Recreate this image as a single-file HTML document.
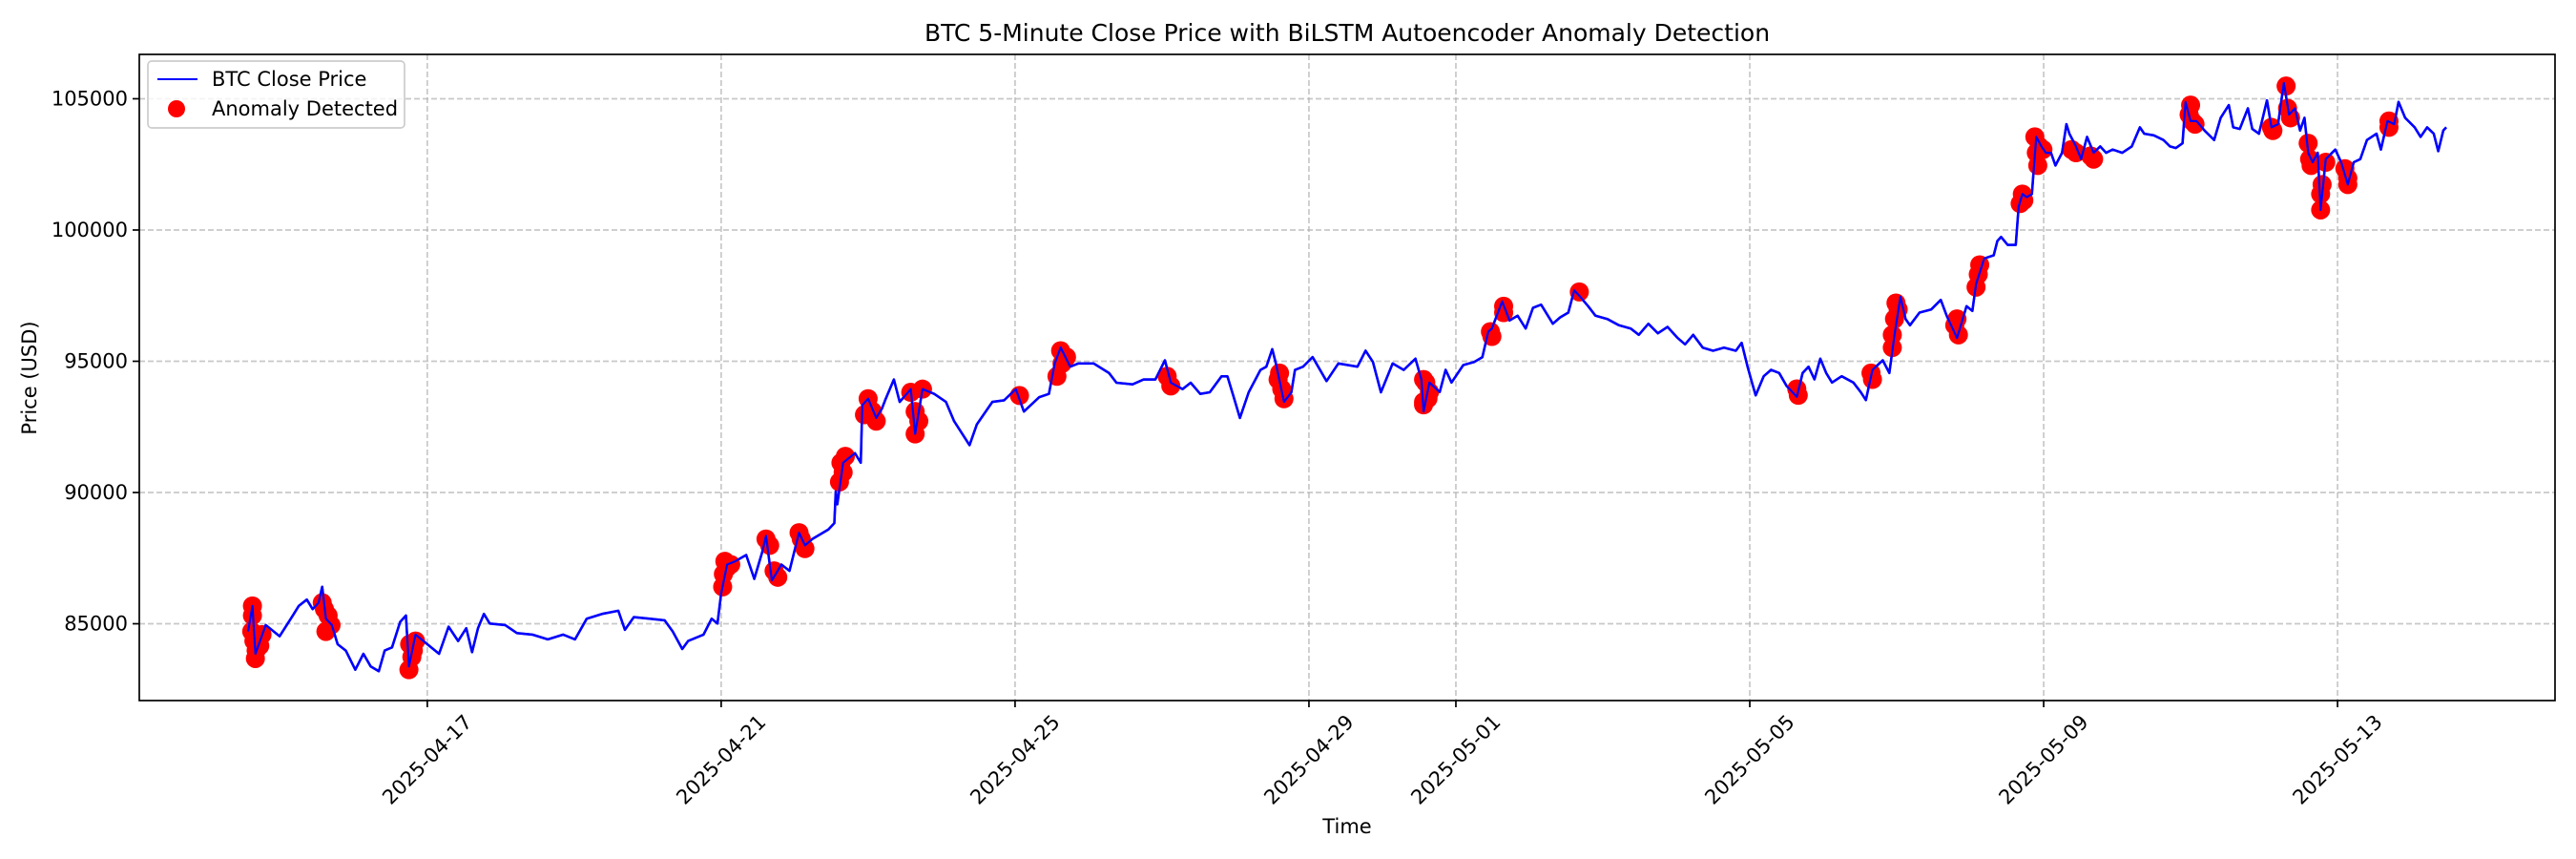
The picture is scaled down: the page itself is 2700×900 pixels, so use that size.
<!DOCTYPE html>
<html><head><meta charset="utf-8"><style>
html,body{margin:0;padding:0;background:#fff;}
svg{display:block;font-family:"DejaVu Sans","Liberation Sans",sans-serif;}
</style></head><body>
<svg id="chart" width="2700" height="900" viewBox="0 0 2700 900" xmlns="http://www.w3.org/2000/svg">
<rect width="2700" height="900" fill="#fff"/>
<text x="1412" y="43" font-size="25" text-anchor="middle">BTC 5-Minute Close Price with BiLSTM Autoencoder Anomaly Detection</text>
<text transform="translate(38,396) rotate(-90)" font-size="21" text-anchor="middle">Price (USD)</text>
<text x="1412" y="873" font-size="21" text-anchor="middle">Time</text>
<g id="grid"></g><g id="series"></g><g id="axes"></g><g id="legend"></g>
</svg>
<script>
// time in days since 2025-04-17 00:00
const priceT=[-2.44,-2.38,-2.34,-2.20,-2.01,-1.83,-1.75,-1.64,-1.56,-1.48,-1.43,-1.38,-1.30,-1.22,-1.11,-0.98,-0.87,-0.77,-0.66,-0.58,-0.48,-0.37,-0.29,-0.25,-0.16,0,0.16,0.29,0.42,0.53,0.61,0.69,0.77,0.85,1.06,1.22,1.43,1.64,1.85,2.01,2.17,2.38,2.60,2.69,2.81,3.02,3.23,3.34,3.47,3.55,3.76,3.87,3.95,4.00,4.08,4.19,4.34,4.45,4.56,4.61,4.69,4.82,4.93,5.06,5.14,5.24,5.46,5.54,5.56,5.58,5.66,5.82,5.90,5.92,6.00,6.11,6.19,6.24,6.35,6.43,6.58,6.64,6.74,6.90,7.06,7.17,7.38,7.48,7.69,7.85,8.01,8.12,8.33,8.46,8.54,8.62,8.75,8.86,9.07,9.28,9.38,9.60,9.75,9.91,10.04,10.12,10.28,10.39,10.52,10.65,10.81,10.89,10.97,11.06,11.18,11.34,11.42,11.50,11.55,11.66,11.76,11.81,11.92,12.05,12.24,12.40,12.66,12.77,12.87,12.98,13.14,13.29,13.45,13.53,13.56,13.64,13.78,13.86,13.94,14.10,14.25,14.36,14.44,14.49,14.63,14.73,14.84,14.95,15.05,15.16,15.32,15.42,15.53,15.61,15.69,15.80,15.90,16.06,16.22,16.38,16.49,16.62,16.75,16.88,17.02,17.12,17.23,17.36,17.50,17.65,17.81,17.89,17.97,18.03,18.08,18.19,18.29,18.40,18.50,18.64,18.72,18.80,18.88,18.96,19.04,19.12,19.25,19.41,19.51,19.58,19.67,19.81,19.90,19.97,20.05,20.12,20.18,20.31,20.47,20.60,20.68,20.82,20.95,21.03,21.08,21.19,21.32,21.37,21.42,21.51,21.62,21.66,21.71,21.77,21.84,21.86,21.90,21.97,22.03,22.10,22.16,22.25,22.31,22.35,22.44,22.51,22.59,22.68,22.77,22.85,22.94,23.07,23.20,23.31,23.37,23.50,23.63,23.72,23.80,23.89,23.93,24.00,24.08,24.19,24.32,24.41,24.52,24.58,24.67,24.78,24.84,24.93,25.04,25.10,25.19,25.27,25.34,25.42,25.49,25.55,25.60,25.66,25.73,25.77,25.84,25.97,26.05,26.14,26.22,26.31,26.40,26.53,26.59,26.68,26.77,26.83,26.92,27.05,27.13,27.22,27.31,27.37,27.44,27.48];
const priceV=[84707,85678,83857,84950,84525,85314,85678,85921,85557,85800,86407,85193,84950,84221,83979,83250,83857,83371,83190,83979,84100,85071,85314,83371,84586,84221,83857,84889,84343,84829,83918,84829,85375,85010,84950,84646,84586,84404,84586,84404,85193,85375,85496,84768,85253,85193,85132,84707,84039,84343,84586,85193,85010,86164,87256,87378,87620,86710,87742,88349,86649,87256,87014,88470,87985,88228,88592,88835,90049,89549,91134,91500,91134,93329,93573,92841,93207,93573,94305,93451,93939,92232,93939,93756,93451,92720,91805,92598,93451,93512,93939,93085,93634,93756,94915,95524,94793,94915,94915,94549,94183,94122,94305,94305,95037,94183,93939,94183,93756,93817,94427,94427,93695,92841,93817,94671,94793,95463,94915,93451,93817,94671,94793,95159,94244,94915,94793,95402,94976,93817,94915,94671,95098,94305,93085,94188,93824,94673,94188,94855,94976,95158,96127,96248,97279,96551,96733,96248,97036,97157,96430,96673,96854,97703,97460,97097,96733,96612,96370,96248,96006,96430,96067,96309,95885,95642,96006,95521,95400,95521,95400,95703,94794,94188,93703,94430,94673,94552,94067,93643,94552,94794,94309,95097,94552,94188,94430,94188,93824,93521,94673,95036,94552,96006,97460,96612,96370,96854,96976,97339,96733,95885,97097,96915,97945,98915,99036,99582,99737,99434,99434,100886,101370,101249,101370,102096,103548,103185,102943,102943,102459,102943,104032,103669,103185,102701,103548,102943,103185,102943,103064,102943,103185,103911,103669,103608,103427,103185,103124,103306,104879,104153,104153,103790,103427,104274,104758,103911,103851,104637,103851,103669,104940,103911,104032,105605,104395,104637,103790,104274,102943,102580,102943,100765,102701,103064,102580,101733,102580,102701,103427,103669,103064,104153,104032,104879,104274,103911,103548,103911,103669,103004,103790,103911];
const anomT=[-2.38,-2.38,-2.39,-2.36,-2.33,-2.34,-2.25,-2.28,-1.43,-1.40,-1.35,-1.31,-1.38,-0.24,-0.21,-0.16,-0.25,-0.19,4.05,4.03,4.02,4.08,4.13,4.61,4.66,4.72,4.77,5.06,5.09,5.14,5.63,5.61,5.66,5.69,6.00,5.95,6.06,6.11,6.58,6.64,6.64,6.74,6.69,8.06,8.62,8.64,8.57,8.70,10.07,10.12,11.60,11.63,11.66,11.58,13.56,13.56,13.59,13.62,13.64,13.56,14.47,14.49,14.65,14.65,15.68,18.64,18.66,19.65,19.67,19.99,19.97,19.94,19.94,20.02,20.82,20.84,20.79,21.08,21.11,21.13,21.68,21.71,21.73,21.88,21.90,21.92,21.94,21.99,22.38,22.44,22.64,22.68,24.00,23.98,24.06,24.02,25.10,25.12,25.30,25.32,25.36,25.60,25.62,25.64,25.77,25.77,25.84,25.79,26.14,26.14,26.10,26.70,26.70];
const anomV=[85678,85314,84707,84343,83979,83675,84586,84161,85800,85557,85314,84950,84707,84221,83736,84343,83250,83979,87378,86892,86407,87135,87256,88228,87985,87014,86771,88470,88228,87863,91134,90402,90768,91378,93573,92963,93085,92720,93817,93085,92232,93939,92720,93695,95402,94915,94427,95159,94427,94061,94549,93939,93573,94305,94305,93451,94188,93582,93824,93340,96127,95945,97097,96854,97642,93946,93703,94552,94309,97218,96612,96006,95521,96976,96612,96006,96370,97824,98309,98673,101007,101370,101128,103548,102943,102459,103185,103064,103064,102943,102822,102701,104758,104395,104032,104153,103911,103790,105484,104637,104274,103306,102701,102459,101370,100765,102580,101733,101975,101733,102338,104153,103911];
const xTickT=[0,4,8,12,14,18,22,26];
const xTickLabels=["2025-04-17","2025-04-21","2025-04-25","2025-04-29","2025-05-01","2025-05-05","2025-05-09","2025-05-13"];
const yTicks=[85000,90000,95000,100000,105000];

const L=146,R=2678,T=57,B=734,X0=-3.92,X1=28.96,Y0=82074,Y1=106690;
const xs=t=>L+(t-X0)/(X1-X0)*(R-L);
const ys=v=>T+(Y1-v)/(Y1-Y0)*(B-T);
const NS="http://www.w3.org/2000/svg";
function mk(tag,attrs,parent){const e=document.createElementNS(NS,tag);for(const k in attrs)e.setAttribute(k,attrs[k]);parent.appendChild(e);return e;}
const grid=document.getElementById('grid'),series=document.getElementById('series'),axes=document.getElementById('axes'),legend=document.getElementById('legend');

xTickT.forEach((t,i)=>{
  const x=xs(t);
  const g=mk('line',{x1:x,x2:x,y1:T,y2:B,stroke:'#b0b0b0','stroke-opacity':0.7,'stroke-width':1.7,'stroke-dasharray':'6,3'},grid);
  
  
  const tk=mk('line',{x1:x,x2:x,y1:B,y2:B+7,stroke:'#000','stroke-width':1.7},axes);
  
  
  const tx=mk('text',{transform:`translate(${x},${B+62}) rotate(-45)`,'font-size':21,'text-anchor':'middle','dominant-baseline':'central'},axes);
  tx.textContent=xTickLabels[i];
  
  
});
yTicks.forEach(v=>{
  const y=ys(v);
  const g=mk('line',{x1:L,x2:R,y1:y,y2:y,stroke:'#b0b0b0','stroke-opacity':0.7,'stroke-width':1.7,'stroke-dasharray':'6,3'},grid);
  
  
  const tk=mk('line',{x1:L-7,x2:L,y1:y,y2:y,stroke:'#000','stroke-width':1.7},axes);
  
  
  const tx=mk('text',{x:L-12,y:y,'font-size':21,'text-anchor':'end','dominant-baseline':'central'},axes);
  tx.textContent=String(v);
  
  
});
const pts=priceT.map((t,i)=>xs(t).toFixed(1)+','+ys(priceV[i]).toFixed(1)).join(' ');
const line=mk('polyline',{points:pts,fill:'none',stroke:'#0000ff','stroke-width':2.6,'stroke-linejoin':'round'},series);


anomT.forEach((t,i)=>{
  const c=mk('circle',{cx:xs(t),cy:ys(anomV[i]),r:10,fill:'#ff0000'},series);
  
  
});
const line2=mk('polyline',{points:pts,fill:'none',stroke:'#0000ff','stroke-width':2.2,'stroke-linejoin':'round'},series);


const frame=mk('rect',{x:L,y:T,width:R-L,height:B-T,fill:'none',stroke:'#000','stroke-width':1.7},axes);



const lb=mk('rect',{x:155,y:64,width:269,height:70,rx:4,fill:'#fff','fill-opacity':0.8,stroke:'#cccccc','stroke-width':1.7},legend);


const ll=mk('line',{x1:165,x2:207,y1:83,y2:83,stroke:'#0000ff','stroke-width':2},legend);


const lt1=mk('text',{x:222,y:83,'font-size':21,'dominant-baseline':'central'},legend);
lt1.textContent='BTC Close Price';


const ld=mk('circle',{cx:185,cy:114,r:9,fill:'#ff0000'},legend);


const lt2=mk('text',{x:222,y:114,'font-size':21,'dominant-baseline':'central'},legend);
lt2.textContent='Anomaly Detected';


</script>
</body></html>
